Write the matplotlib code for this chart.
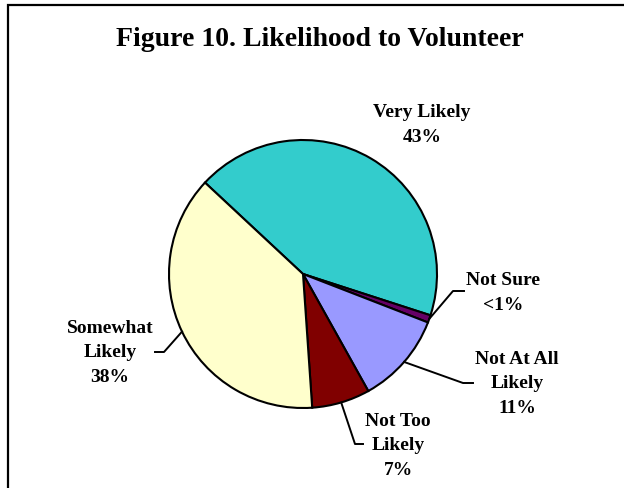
import matplotlib.pyplot as plt
import numpy as np

# Respostas (em %), na ordem horaria a partir do topo esquerdo
categorias = ["Very Likely", "Not Sure", "Not At All\nLikely", "Not Too\nLikely", "Somewhat\nLikely"]
valores = [43, 0.9, 11, 7, 38]
rotulos = ["43%", "<1%", "11%", "7%", "38%"]
cores = ["#33CCCC", "#660066", "#9999FF", "#800000", "#FFFFCC"]

LARGURA, ALTURA = 624, 489
FONTE = "Liberation Serif"

# posicoes dos rotulos e dos cotovelos das linhas guia (pixels, y para baixo)
pos_texto = [(422, 125), (503, 293), (517, 384), (398, 446), (110, 353)]
guias = [
    None,
    [(453, 292), (464, 292)],
    [(463, 384), (473, 384)],
    [(355, 445), (363, 445)],
    [(164, 353), (155, 353)],
]

centro = (303, ALTURA - 275)
raio = 134
inicio = 137.0

fig = plt.figure(figsize=(LARGURA / 100, ALTURA / 100), dpi=100)
ax = fig.add_axes([0, 0, 1, 1])

ax.pie(
    valores,
    colors=cores,
    startangle=inicio,
    counterclock=False,
    center=centro,
    radius=raio,
    wedgeprops=dict(edgecolor="black", linewidth=1.5),
)

ax.set_xlim(0, LARGURA)
ax.set_ylim(0, ALTURA)
ax.set_aspect("equal")
ax.axis("off")

# moldura (so lados esquerdo e superior aparecem)
ax.plot([8, 8, LARGURA + 20], [-20, ALTURA - 6, ALTURA - 6], color="black",
        linewidth=1.6, solid_joinstyle="miter", clip_on=False)

ax.text(320, ALTURA - 40, "Figure 10. Likelihood to Volunteer",
        ha="center", va="center", fontsize=20, fontweight="bold", family=FONTE)

# angulo medio de cada fatia
fracoes = np.array(valores) / sum(valores)
fim = inicio - np.cumsum(fracoes) * 360
meio = fim + fracoes * 180

for cat, rot, (tx, ty), guia, ang in zip(categorias, rotulos, pos_texto, guias, meio):
    ax.text(tx, ALTURA - ty, f"{cat}\n{rot}", ha="center", va="center",
            fontsize=14, fontweight="bold", family=FONTE, linespacing=1.55)
    if guia is None:
        continue
    a = np.deg2rad(ang)
    xs = [centro[0] + raio * np.cos(a)] + [p[0] for p in guia]
    ys = [centro[1] + raio * np.sin(a)] + [ALTURA - p[1] for p in guia]
    ax.plot(xs, ys, color="black", linewidth=1.4)

fig.savefig("out.png", dpi=100, facecolor="white")
